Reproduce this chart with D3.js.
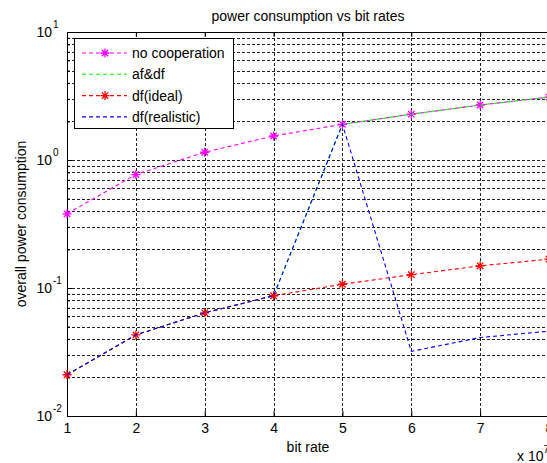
<!DOCTYPE html>
<html>
<head>
<meta charset="utf-8">
<script src="https://cdn.jsdelivr.net/npm/d3@7"></script>
<style>
  body { margin: 0; background: #fff; }
  svg { display: block; }
  .text { font-family: "Liberation Sans", Arial, sans-serif; font-size: 14px; fill: #000; }
</style>
</head>
<body>
<div id="chart"></div>
<script>
// bit rate (x 10^7)
const bitRates = [1, 2, 3, 4, 5, 6, 7, 8];
// overall power consumption per scheme
const noCooperation = [0.38, 0.77, 1.15, 1.54, 1.9, 2.28, 2.69, 3.1];
const afDf = [0.021, 0.043, 0.064, 0.087, 1.9, 2.28, 2.69, 3.1];
const dfIdeal = [0.021, 0.043, 0.064, 0.087, 0.107, 0.127, 0.149, 0.168];
const dfRealistic = [0.021, 0.043, 0.064, 0.087, 1.9, 0.032, 0.041, 0.046];

const yMajorTicks = [0.01, 0.1, 1, 10];
const yExponents = ["-2", "-1", "0", "1"];
const seriesNames = ["no cooperation", "af&df", "df(ideal)", "df(realistic)"];

const width = 547;
const height = 463;
const margins = { top: 32, left: 67, bottom: 47 };
const plotRight = 549; // the axes run a little past the picture edge

const svg = d3.select("#chart")
    .append("svg")
    .attr("width", width)
    .attr("height", height);

const xScale = d3.scaleLinear()
    .domain([1, 8])
    .range([margins.left, plotRight]);

const yScale = d3.scaleLog()
    .domain([0.01, 10])
    .range([height - margins.bottom, margins.top]);

const plotW = plotRight - margins.left;
const plotH = height - margins.bottom - margins.top;

// minor log values 2..9 of each decade
const yMinorTicks = [];
[0.01, 0.1, 1].forEach(d => {
    for (let k = 2; k <= 9; k++) yMinorTicks.push(d * k);
});

// grid
const gridY = svg.append("g")
    .attr("transform", `translate(${margins.left},0)`)
    .call(d3.axisLeft(yScale).tickValues(yMajorTicks.concat(yMinorTicks)).tickSize(-plotW).tickFormat(""));
const gridX = svg.append("g")
    .attr("transform", `translate(0,${margins.top + plotH})`)
    .call(d3.axisBottom(xScale).tickValues(bitRates).tickSize(-plotH).tickFormat(""));
[gridX, gridY].forEach(g => {
    g.select(".domain").remove();
    g.selectAll("line")
        .attr("stroke", "#222")
        .attr("stroke-dasharray", "3,2")
        .attr("shape-rendering", "crispEdges");
});

// axes box
svg.append("rect")
    .attr("x", margins.left + 0.5)
    .attr("y", margins.top + 0.5)
    .attr("width", plotW)
    .attr("height", plotH)
    .attr("fill", "none")
    .attr("stroke", "#000")
    .attr("shape-rendering", "crispEdges");

// x axis
const xAxis = svg.append("g")
    .attr("transform", `translate(0,${margins.top + plotH})`)
    .call(d3.axisBottom(xScale).tickValues(bitRates).tickSize(-5).tickPadding(7).tickFormat(d3.format("d")));
xAxis.select(".domain").remove();
xAxis.selectAll("text").attr("class", "text").attr("fill", null);

// top ticks
const topAxis = svg.append("g")
    .attr("transform", `translate(0,${margins.top})`)
    .call(d3.axisTop(xScale).tickValues(bitRates).tickSize(-5).tickFormat(""));
topAxis.select(".domain").remove();

// y axis with 10^n labels
const yAxis = svg.append("g")
    .attr("transform", `translate(${margins.left},0)`)
    .call(d3.axisLeft(yScale).tickValues(yMajorTicks).tickSize(-5).tickPadding(15).tickFormat(() => "10"));
yAxis.select(".domain").remove();
yAxis.selectAll("text").attr("class", "text").attr("fill", null);
yAxis.selectAll(".tick").append("text")
    .attr("class", "text")
    .attr("x", -14)
    .attr("y", -5)
    .attr("text-anchor", "start")
    .style("font-size", "10px")
    .text((d, i) => yExponents[i]);

const yMinor = svg.append("g")
    .attr("transform", `translate(${margins.left},0)`)
    .call(d3.axisLeft(yScale).tickValues(yMinorTicks).tickSize(-3).tickFormat(""));
yMinor.select(".domain").remove();

// series
const series = [
    { name: seriesNames[0], values: noCooperation, color: "#ff00ff", marker: true },
    { name: seriesNames[1], values: afDf, color: "#00ff00", marker: false },
    { name: seriesNames[2], values: dfIdeal, color: "#ff0000", marker: true },
    { name: seriesNames[3], values: dfRealistic, color: "#0000ff", marker: false }
];

const starPath = "M-4.5,0H4.5M0,-4.5V4.5M-3.2,-3.2L3.2,3.2M-3.2,3.2L3.2,-3.2";

const line = d3.line()
    .x((d, i) => xScale(bitRates[i]))
    .y(d => yScale(d));

const plot = svg.append("g");
series.forEach(s => {
    plot.append("path")
        .datum(s.values)
        .attr("d", line)
        .attr("fill", "none")
        .attr("stroke", s.color)
        .attr("stroke-width", 1.1)
        .attr("stroke-dasharray", "4,3");
    if (s.marker) {
        plot.selectAll(null)
            .data(s.values)
            .join("path")
            .attr("transform", (d, i) => `translate(${xScale(bitRates[i])},${yScale(d)})`)
            .attr("d", starPath)
            .attr("stroke", s.color)
            .attr("stroke-width", 1.3)
            .attr("fill", "none");
    }
});

// legend
const legend = svg.append("g")
    .attr("transform", "translate(74,38)");
legend.append("rect")
    .attr("x", 0.5)
    .attr("y", 0.5)
    .attr("width", 159)
    .attr("height", 90)
    .attr("fill", "#fff")
    .attr("stroke", "#000")
    .attr("shape-rendering", "crispEdges");
series.forEach((s, i) => {
    const cy = 15 + i * 21.3;
    const row = legend.append("g").attr("transform", `translate(0,${cy})`);
    row.append("line")
        .attr("x1", 8)
        .attr("x2", 53)
        .attr("stroke", s.color)
        .attr("stroke-width", 1.1)
        .attr("stroke-dasharray", "4,3");
    if (s.marker) {
        row.append("path")
            .attr("transform", "translate(31,0)")
            .attr("d", starPath)
            .attr("stroke", s.color)
            .attr("stroke-width", 1.3)
            .attr("fill", "none");
    }
    row.append("text")
        .attr("class", "text")
        .attr("x", 58)
        .attr("y", 5)
        .text(s.name);
});

// title and labels
svg.append("text")
    .attr("class", "text")
    .attr("x", (margins.left + plotRight) / 2)
    .attr("y", 21)
    .attr("text-anchor", "middle")
    .text("power consumption vs bit rates");

svg.append("text")
    .attr("class", "text")
    .attr("x", (margins.left + plotRight) / 2)
    .attr("y", 452)
    .attr("text-anchor", "middle")
    .text("bit rate");

svg.append("text")
    .attr("class", "text")
    .attr("transform", `translate(26,${margins.top + plotH / 2}) rotate(-90)`)
    .attr("text-anchor", "middle")
    .text("overall power consumption");

const mult = svg.append("text")
    .attr("class", "text")
    .attr("x", 517)
    .attr("y", 461);
mult.append("tspan").text("x 10");
mult.append("tspan")
    .attr("dy", -8)
    .style("font-size", "10px")
    .text("7");
</script>
</body>
</html>
